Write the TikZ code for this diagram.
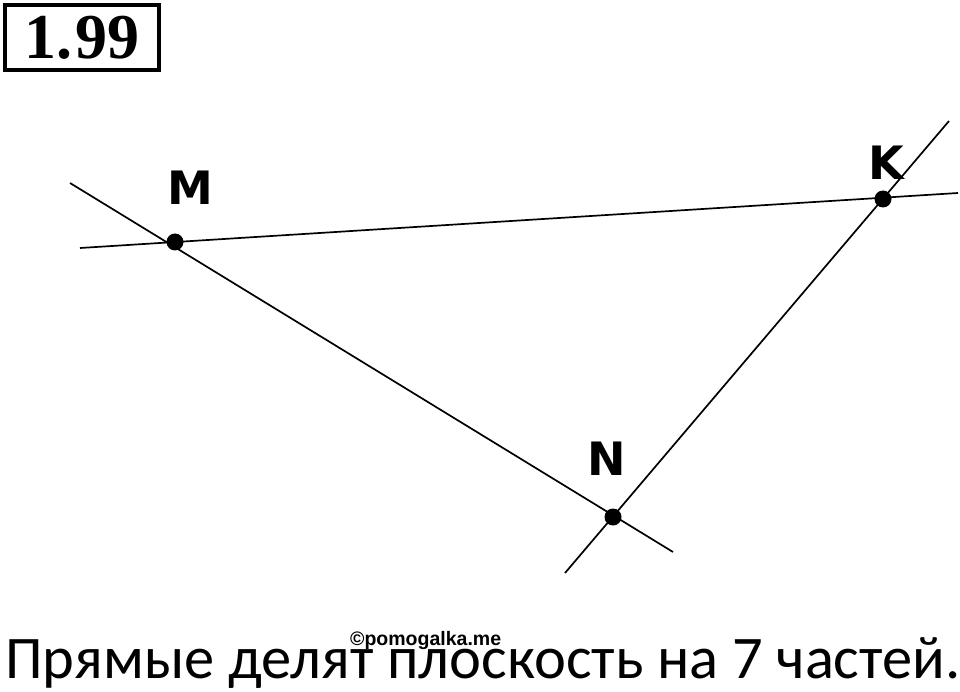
\documentclass[tikz,border=0pt]{standalone}
\usepackage{fontspec}
\setmainfont{Carlito}
\newfontfamily\labfont{DejaVu Sans}
\newfontfamily\numfont{Liberation Serif}
\newfontfamily\wmfont{Liberation Sans}
\usetikzlibrary{calc}
\begin{document}
\begin{tikzpicture}[x=1pt,y=-1pt,
  ln/.style={line width=1.7pt,black},
  pt/.style={circle,fill=black,inner sep=0pt,minimum size=17pt},
  lab/.style={font=\labfont\bfseries\fontsize{46}{46}\selectfont,inner sep=0pt,anchor=center}]
\useasboundingbox (0,0) rectangle (960,692);
% title box
\node[draw,line width=3.5pt,minimum width=154pt,minimum height=65pt,inner sep=0pt] (title) at (82,37.5)
  {\numfont\bfseries\fontsize{64}{64}\selectfont 1.\kern3pt99};
% points
\node[pt] (M) at (175,242) {};
\node[pt] (N) at (613,517) {};
\node[pt] (K) at (883,199) {};
% line ends
\coordinate (mk1) at (80,248);
\coordinate (mk2) at (958,193);
\coordinate (mn1) at (70,183);
\coordinate (mn2) at (673,552);
\coordinate (nk1) at (565,573);
\coordinate (nk2) at (949,121);
\draw[ln] (mk1) -- (mk2);
\draw[ln] (mn1) -- (mn2);
\draw[ln] (nk1) -- (nk2);
% labels
\node[lab] (lM) at (190,188) {M};
\node[lab] (lN) at (607,459) {N};
\node[lab] (lK) at (886,163) {K};
% text
\node[anchor=base west,inner sep=0pt,font=\fontsize{60.5}{60.5}\selectfont] (cap) at (5,678)
  {Прямые делят плоскость на 7 частей.};
\node[anchor=base west,inner sep=0pt,font=\wmfont\bfseries\fontsize{19.5}{19.5}\selectfont] (wm) at (350,645)
  {©pomogalka.me};
\end{tikzpicture}
\end{document}
